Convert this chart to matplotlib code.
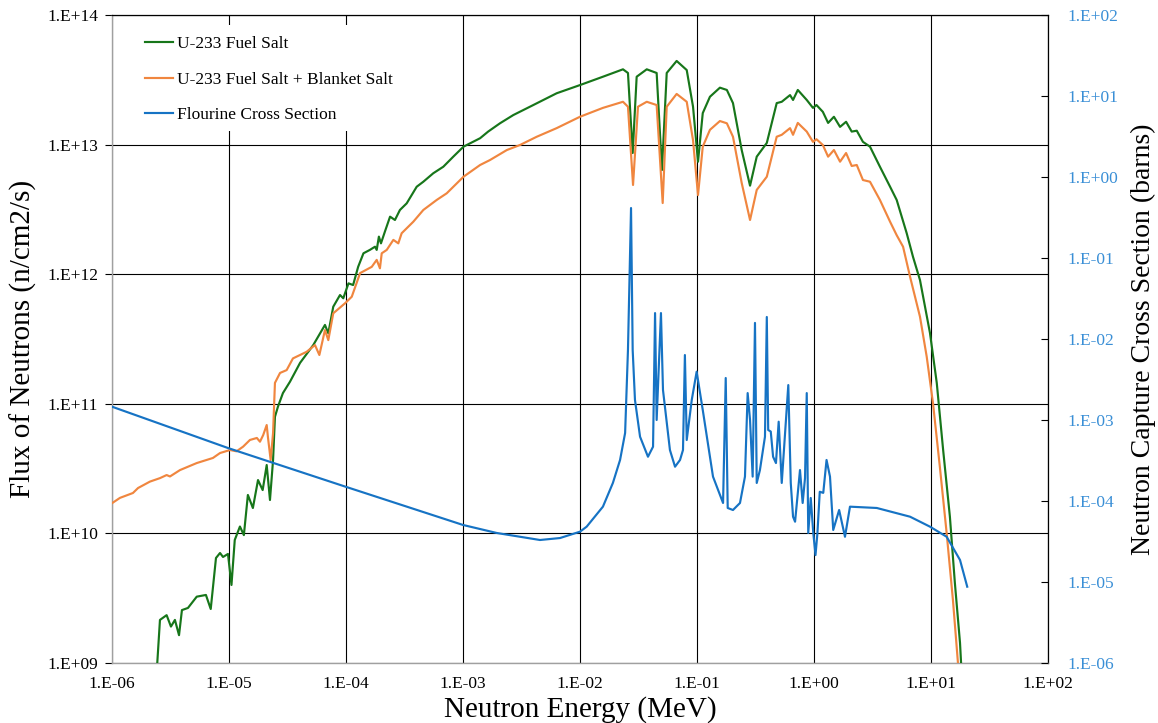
import numpy as np
import matplotlib
matplotlib.use('Agg')
import matplotlib.pyplot as plt
from matplotlib.ticker import FuncFormatter, NullLocator, FixedLocator
from matplotlib.lines import Line2D
from matplotlib.patches import Rectangle

# ---------------- data ----------------
fuel_E = [2.40e-6, 2.57e-6, 2.93e-6, 3.19e-6, 3.45e-6, 3.74e-6, 3.96e-6, 4.46e-6, 5.30e-6, 6.35e-6,
          6.98e-6, 7.74e-6, 8.38e-6, 8.89e-6, 9.80e-6, 1.05e-5, 1.12e-5, 1.24e-5, 1.34e-5, 1.45e-5,
          1.60e-5, 1.77e-5, 1.94e-5, 2.10e-5, 2.24e-5, 2.38e-5, 2.47e-5, 2.62e-5, 2.89e-5, 3.32e-5,
          4.05e-5, 5.25e-5, 6.61e-5, 7.06e-5, 7.78e-5, 8.89e-5, 9.48e-5, 1.05e-4, 1.15e-4, 1.27e-4,
          1.41e-4, 1.60e-4, 1.77e-4, 1.83e-4, 1.91e-4, 1.99e-4, 2.15e-4, 2.38e-4, 2.62e-4, 2.89e-4,
          3.30e-4, 4.02e-4, 4.58e-4, 5.57e-4, 6.79e-4, 8.26e-4, 1.01e-3, 1.40e-3, 1.64e-3, 2.07e-3,
          2.69e-3, 3.99e-3, 6.32e-3, 1.00e-2, 1.57e-2, 2.33e-2, 2.57e-2, 2.82e-2, 3.05e-2, 3.72e-2,
          4.52e-2, 5.02e-2, 5.51e-2, 6.70e-2, 8.17e-2, 9.25e-2, 1.02e-1, 1.12e-1, 1.29e-1, 1.57e-1,
          1.80e-1, 2.03e-1, 2.41e-1, 2.84e-1, 3.24e-1, 3.95e-1, 4.80e-1, 5.30e-1, 6.24e-1, 6.62e-1,
          7.27e-1, 8.67e-1, 9.80e-1, 1.05, 1.19, 1.32, 1.48, 1.67, 1.88, 2.10,
          2.32, 2.62, 3.01, 3.66, 4.47, 5.09, 6.19, 7.02, 8.05, 9.8,
          11.2, 12.7, 14.5, 16.0, 17.7, 18.4]
fuel_flux = [8.0e8, 2.15e9, 2.34e9, 1.91e9, 2.15e9, 1.64e9, 2.56e9, 2.66e9, 3.25e9, 3.35e9,
             2.61e9, 6.46e9, 7.06e9, 6.58e9, 6.94e9, 4.0e9, 8.9e9, 1.13e10, 9.7e9, 1.98e10,
             1.57e10, 2.58e10, 2.16e10, 3.37e10, 1.81e10, 3.68e10, 7.94e10, 9.5e10, 1.21e11, 1.48e11,
             2.07e11, 2.84e11, 4.06e11, 3.50e11, 5.61e11, 6.91e11, 6.52e11, 8.5e11, 8.25e11, 1.14e12,
             1.45e12, 1.54e12, 1.63e12, 1.54e12, 1.95e12, 1.73e12, 2.13e12, 2.78e12, 2.62e12, 3.13e12,
             3.52e12, 4.73e12, 5.17e12, 6.01e12, 6.75e12, 8.07e12, 9.64e12, 1.12e13, 1.26e13, 1.46e13,
             1.69e13, 2.02e13, 2.49e13, 2.88e13, 3.34e13, 3.81e13, 3.57e13, 8.61e12, 3.34e13, 3.81e13,
             3.57e13, 6.37e12, 3.57e13, 4.42e13, 3.76e13, 1.96e13, 7.38e12, 1.75e13, 2.34e13, 2.75e13,
             2.64e13, 2.09e13, 9.08e12, 4.82e12, 8.07e12, 1.03e13, 2.09e13, 2.14e13, 2.41e13, 2.21e13,
             2.64e13, 2.21e13, 1.92e13, 2.02e13, 1.79e13, 1.47e13, 1.64e13, 1.37e13, 1.50e13, 1.26e13,
             1.28e13, 1.05e13, 9.64e12, 6.75e12, 4.73e12, 3.74e12, 2.08e12, 1.36e12, 9.02e11, 3.52e11,
             1.45e11, 4.40e10, 1.35e10, 4.14e9, 1.43e9, 7.4e8]

blanket_E = [1.00e-6, 1.17e-6, 1.51e-6, 1.67e-6, 2.11e-6, 2.57e-6, 2.93e-6, 3.13e-6, 3.81e-6, 5.30e-6,
             7.29e-6, 8.38e-6, 1.02e-5, 1.16e-5, 1.32e-5, 1.51e-5, 1.73e-5, 1.84e-5, 1.96e-5, 2.10e-5,
             2.15e-5, 2.27e-5, 2.38e-5, 2.47e-5, 2.73e-5, 3.11e-5, 3.52e-5, 4.61e-5, 5.43e-5, 5.92e-5,
             6.61e-5, 7.06e-5, 7.78e-5, 9.80e-5, 1.12e-4, 1.32e-4, 1.66e-4, 1.83e-4, 1.95e-4, 2.02e-4,
             2.23e-4, 2.54e-4, 2.80e-4, 2.99e-4, 3.76e-4, 4.58e-4, 5.96e-4, 7.26e-4, 1.01e-3, 1.40e-3,
             1.70e-3, 2.37e-3, 3.07e-3, 4.27e-3, 6.32e-3, 1.00e-2, 1.57e-2, 2.33e-2, 2.57e-2, 2.84e-2,
             3.13e-2, 3.72e-2, 4.52e-2, 5.09e-2, 5.51e-2, 6.70e-2, 8.17e-2, 9.25e-2, 1.02e-1, 1.12e-1,
             1.29e-1, 1.57e-1, 1.80e-1, 2.03e-1, 2.41e-1, 2.84e-1, 3.24e-1, 3.95e-1, 4.80e-1, 5.30e-1,
             6.24e-1, 6.62e-1, 7.27e-1, 8.67e-1, 9.80e-1, 1.05, 1.19, 1.32, 1.48, 1.67,
             1.88, 2.10, 2.32, 2.62, 3.01, 3.66, 4.47, 5.09, 5.77, 6.62,
             8.05, 9.19, 10.4, 11.9, 13.6, 15.4, 17.0, 17.7]
blanket_flux = [1.71e10, 1.88e10, 2.05e10, 2.24e10, 2.51e10, 2.67e10, 2.82e10, 2.75e10, 3.08e10, 3.49e10,
                3.82e10, 4.17e10, 4.40e10, 4.30e10, 4.67e10, 5.26e10, 5.45e10, 5.10e10, 5.74e10, 6.86e10,
                5.57e10, 3.68e10, 5.95e10, 1.45e11, 1.73e11, 1.82e11, 2.24e11, 2.52e11, 2.84e11, 2.38e11,
                3.71e11, 3.10e11, 4.99e11, 5.96e11, 6.70e11, 1.02e12, 1.14e12, 1.29e12, 1.11e12, 1.45e12,
                1.54e12, 1.84e12, 1.73e12, 2.07e12, 2.54e12, 3.13e12, 3.74e12, 4.21e12, 5.65e12, 6.96e12,
                7.60e12, 9.08e12, 9.93e12, 1.15e13, 1.34e13, 1.64e13, 1.92e13, 2.14e13, 1.96e13, 4.88e12,
                1.96e13, 2.14e13, 2.02e13, 3.54e12, 1.96e13, 2.46e13, 2.14e13, 1.08e13, 4.08e12, 9.64e12,
                1.30e13, 1.52e13, 1.46e13, 1.15e13, 5.06e12, 2.62e12, 4.47e12, 5.65e12, 1.15e13, 1.19e13,
                1.34e13, 1.19e13, 1.47e13, 1.26e13, 1.05e13, 1.10e13, 9.93e12, 8.07e12, 9.08e12, 7.38e12,
                8.61e12, 6.84e12, 6.96e12, 5.33e12, 5.17e12, 3.74e12, 2.54e12, 2.00e12, 1.63e12, 9.57e11,
                4.70e11, 2.31e11, 1.01e11, 3.27e10, 1.01e10, 3.06e9, 1.0e9, 6.0e8]

xs_E = [1.00e-6, 9.80e-6, 9.93e-5, 1.00e-3, 1.94e-3, 4.55e-3, 6.75e-3, 1.00e-2, 1.14e-2, 1.57e-2,
        1.91e-2, 2.20e-2, 2.43e-2, 2.57e-2, 2.73e-2, 2.82e-2, 2.95e-2, 3.26e-2, 3.81e-2, 4.21e-2,
        4.38e-2, 4.52e-2, 4.92e-2, 5.12e-2, 5.87e-2, 6.49e-2, 7.16e-2, 7.59e-2, 7.88e-2, 8.17e-2,
        9.02e-2, 9.93e-2, 1.12e-1, 1.37e-1, 1.67e-1, 1.76e-1, 1.83e-1, 2.03e-1, 2.33e-1, 2.57e-1,
        2.71e-1, 2.84e-1, 2.99e-1, 3.13e-1, 3.24e-1, 3.45e-1, 3.81e-1, 3.95e-1, 4.06e-1, 4.27e-1,
        4.47e-1, 4.73e-1, 4.99e-1, 5.30e-1, 6.03e-1, 6.33e-1, 6.62e-1, 6.89e-1, 7.59e-1, 8.00e-1,
        8.38e-1, 8.67e-1, 8.93e-1, 9.38e-1, 9.86e-1, 1.03, 1.07, 1.12, 1.20, 1.28,
        1.37, 1.46, 1.64, 1.84, 2.03, 3.44, 6.62, 9.8, 13.6, 17.7,
        20.4]
xs_sigma = [1.46e-3, 4.51e-4, 1.50e-4, 5.06e-5, 4.03e-5, 3.30e-5, 3.49e-5, 4.18e-5, 4.82e-5, 8.51e-5,
            1.67e-4, 3.21e-4, 6.92e-4, 7.31e-3, 4.14e-1, 7.31e-3, 1.77e-3, 6.22e-4, 3.52e-4, 4.68e-4,
            2.09e-2, 1.00e-3, 2.09e-2, 2.35e-3, 4.26e-4, 2.65e-4, 3.21e-4, 4.26e-4, 6.34e-3, 5.66e-4,
            1.77e-3, 3.95e-3, 1.33e-3, 2.00e-4, 9.45e-5, 3.30e-3, 8.20e-5, 7.74e-5, 9.45e-5, 2.00e-4,
            2.15e-3, 1.00e-3, 2.00e-4, 1.58e-2, 1.67e-4, 2.41e-4, 6.22e-4, 1.87e-2, 7.53e-4, 7.20e-4,
            3.52e-4, 2.94e-4, 9.53e-4, 1.67e-4, 2.70e-3, 1.67e-4, 6.40e-5, 5.55e-5, 2.41e-4, 9.45e-5,
            1.92e-4, 2.15e-3, 4.03e-5, 1.09e-4, 4.03e-5, 2.15e-5, 4.03e-5, 1.30e-4, 1.26e-4, 3.21e-4,
            2.00e-4, 4.39e-5, 7.74e-5, 3.62e-5, 8.51e-5, 8.20e-5, 6.40e-5, 4.82e-5, 3.62e-5, 1.87e-5,
            8.75e-6]

series_labels = ['U-233 Fuel Salt', 'U-233 Fuel Salt + Blanket Salt', 'Flourine Cross Section']
x_ticks = [1e-6, 1e-5, 1e-4, 1e-3, 1e-2, 1e-1, 1e0, 1e1, 1e2]
left_ticks = [1e9, 1e10, 1e11, 1e12, 1e13, 1e14]
right_ticks = [1e-6, 1e-5, 1e-4, 1e-3, 1e-2, 1e-1, 1e0, 1e1, 1e2]

GREEN = '#17761a'
ORANGE = '#f0863f'
BLUE = '#1673c4'
TICKBLUE = '#3a8fd6'
LW = 1.55

plt.rcParams['font.family'] = ['Liberation Serif', 'DejaVu Serif']


def excel_fmt(v, pos):
    e = int(round(np.log10(v)))
    return f"1.E{e:+03d}"


W, H = 1158, 723
fig = plt.figure(figsize=(W / 100, H / 100), dpi=100)
ax1 = fig.add_axes([112 / W, 60 / H, 936 / W, 648 / H])
ax1.set_xscale('log')
ax1.set_yscale('log')
ax1.set_xlim(1e-6, 1e2)
ax1.set_ylim(1e9, 1e14)

ax1.plot(fuel_E, fuel_flux, color=GREEN, lw=LW, solid_joinstyle='round', zorder=3)
ax1.plot(blanket_E, blanket_flux, color=ORANGE, lw=LW, solid_joinstyle='round', zorder=3)

ax1.xaxis.set_major_locator(FixedLocator(x_ticks))
ax1.xaxis.set_minor_locator(NullLocator())
ax1.yaxis.set_major_locator(FixedLocator(left_ticks))
ax1.yaxis.set_minor_locator(NullLocator())
ax1.xaxis.set_major_formatter(FuncFormatter(excel_fmt))
ax1.yaxis.set_major_formatter(FuncFormatter(excel_fmt))
ax1.grid(True, which='major', color='black', lw=0.8)
ax1.set_axisbelow(True)
ax1.tick_params(axis='x', length=0, pad=9, labelsize=12.5)
ax1.tick_params(axis='y', direction='out', length=5, width=0.8, pad=5, labelsize=12.5)

for s in ('left', 'bottom'):
    ax1.spines[s].set_color('#a0a0a0')
    ax1.spines[s].set_linewidth(1.0)
for s in ('top', 'right'):
    ax1.spines[s].set_color('black')
    ax1.spines[s].set_linewidth(0.9)

ax1.set_xlabel('Neutron Energy (MeV)', fontsize=21, labelpad=3)
ax1.set_ylabel('Flux of Neutrons (n/cm2/s)', fontsize=21, labelpad=7)

ax2 = ax1.twinx()
ax2.set_yscale('log')
ax2.set_ylim(1e-6, 1e2)
ax2.plot(xs_E, xs_sigma, color=BLUE, lw=LW, solid_joinstyle='round', zorder=3)
ax2.yaxis.set_major_locator(FixedLocator(right_ticks))
ax2.yaxis.set_minor_locator(NullLocator())
ax2.yaxis.set_major_formatter(FuncFormatter(excel_fmt))
ax2.tick_params(axis='y', direction='in', length=5, width=0.8, pad=14, labelsize=12.5,
                labelcolor=TICKBLUE)
ax2.set_ylabel('Neutron Capture Cross Section (barns)', fontsize=20, labelpad=9)
for s in ax2.spines.values():
    s.set_visible(False)

# white legend area (no border), covering the grid as in the reference
ax2.add_patch(Rectangle((0.003, 0.821), 0.363, 0.163, transform=ax2.transAxes,
                        facecolor='white', edgecolor='none', zorder=5))
handles = [Line2D([], [], color=GREEN, lw=LW),
           Line2D([], [], color=ORANGE, lw=LW),
           Line2D([], [], color=BLUE, lw=LW)]
leg = ax2.legend(handles, series_labels, loc='upper left', bbox_to_anchor=(33 / 936, 1 - 21 / 648),
                 frameon=False, fontsize=12.5, borderpad=0, borderaxespad=0,
                 handlelength=1.6, handletextpad=0.25, labelspacing=1.11)
leg.set_zorder(6)

fig.savefig('out.png', dpi=100)
